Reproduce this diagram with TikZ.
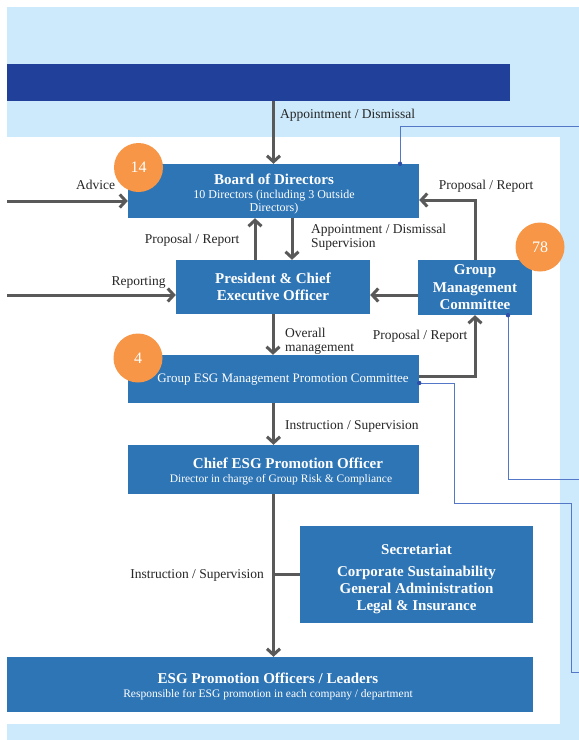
\documentclass[tikz,border=0pt]{standalone}
\usepackage{fontspec}
\setmainfont{Liberation Serif}
\usetikzlibrary{arrows.meta}

\definecolor{pagebg}{HTML}{CCEAFB}
\definecolor{barblue}{HTML}{21409A}
\definecolor{boxblue}{HTML}{2E75B6}
\definecolor{badgeorange}{HTML}{F79646}
\definecolor{flowgray}{HTML}{595959}
\definecolor{linkblue}{HTML}{5577C8}
\definecolor{dotblue}{HTML}{2F4FA8}

\tikzset{
  orgbox/.style={fill=boxblue, text=white, inner sep=0pt, align=center},
  boxtext/.style={text=white, inner sep=0pt, align=center},
  flowarrow/.style={draw=flowgray, line width=3pt,
    -{Straight Barb[length=6pt,width=13pt]}},
  flowline/.style={draw=flowgray, line width=3pt},
  linkline/.style={draw=linkblue, line width=1pt},
  linkdot/.style={fill=dotblue},
  badge/.style={circle, fill=badgeorange, text=white, inner sep=0pt,
    minimum size=49pt, font=\fontsize{16}{16}\selectfont},
  lbl/.style={text=black!85, inner sep=0pt, font=\fontsize{13.5}{14}\selectfont},
  ttl/.style={font=\fontsize{15}{17.5}\selectfont\bfseries},
}
\newcommand{\subline}{\fontsize{11.5}{13}\selectfont\mdseries}

\begin{document}
\begin{tikzpicture}[x=1pt,y=-1pt]
\useasboundingbox (0,0) rectangle (579,740);
% page background and panels
\fill[white] (0,0) rectangle (579,740);
\fill[pagebg] (7,7) rectangle (579,740);
\node[fill=barblue, minimum width=503pt, minimum height=37pt, inner sep=0pt] (bar) at (258.5,82.5) {};
\fill[white] (7,137) rectangle (560,724);

% boxes
\node[orgbox, minimum width=291pt, minimum height=54pt] (board) at (273.5,191) {};
\node[boxtext, font=\fontsize{12}{13}\selectfont] (boardtext) at (274,193.5)
  {{\fontsize{15}{15}\selectfont\bfseries Board of Directors}\\[1pt]
   10 Directors (including 3 Outside\\
   Directors)};
\node[orgbox, minimum width=194pt, minimum height=54pt, ttl] (pres) at (273,287)
  {President \& Chief\\Executive Officer};
\node[orgbox, minimum width=114pt, minimum height=55pt, ttl] (gmc) at (475,287.5)
  {Group\\Management\\Committee};
\node[orgbox, minimum width=291pt, minimum height=48pt] (esg) at (273.5,379) {};
\node[boxtext, font=\fontsize{13}{13}\selectfont] (esgtext) at (283,380)
  {Group ESG Management Promotion Committee};
\node[orgbox, minimum width=291pt, minimum height=49pt] (chief) at (273.5,469.5) {};
\node[boxtext, font=\subline] (chieftext) at (281,471)
  {\hspace*{14pt}{\fontsize{15}{15}\selectfont\bfseries Chief ESG Promotion Officer}\\[1pt]
   Director in charge of Group Risk \& Compliance};
\node[orgbox, minimum width=233pt, minimum height=97pt] (secr) at (416.5,574.5) {};
\node[boxtext, font=\fontsize{15}{17}\selectfont\bfseries] (secrtext) at (416.5,578.5)
  {Secretariat\\[5pt]
   Corporate Sustainability\\
   General Administration\\
   Legal \& Insurance};
\node[orgbox, minimum width=526pt, minimum height=55pt] (officers) at (270,684.5) {};
\node[boxtext, font=\subline] (officerstext) at (268,686)
  {{\fontsize{15}{15}\selectfont\bfseries ESG Promotion Officers / Leaders}\\[1pt]
   Responsible for ESG promotion in each company / department};

% outer link lines
\coordinate (linkA) at (579,126);
\coordinate (linkB) at (579,479);
\coordinate (linkC) at (579,672);
\draw[linkline] ([xshift=126.5pt]board.north) |- (linkA);
\draw[linkline] ([xshift=33pt]gmc.south) |- (linkB);
\draw[linkline] ([yshift=-4pt]esg.east) -- ++(35,0) -- ++(0,120) -- ++(117,0) |- (linkC);
\fill[linkdot] ([xshift=126.5pt]board.north) circle (2.2pt);
\fill[linkdot] ([xshift=33pt]gmc.south) circle (2.2pt);
\fill[linkdot] ([yshift=-4pt]esg.east) circle (2.2pt);

% reporting lines
\coordinate (advicein) at (7,201);
\coordinate (reportin) at (7,295);
\draw[flowarrow] (board.north |- bar.south) -- (board.north);
\draw[flowarrow] (advicein) -- (advicein -| board.west);
\draw[flowarrow] (reportin) -- (reportin -| pres.west);
\draw[flowarrow] ([xshift=-18pt]pres.north) -- ([xshift=-18pt]pres.north |- board.south);
\draw[flowarrow] ([xshift=19pt]pres.north |- board.south) -- ([xshift=19pt]pres.north);
\draw[flowarrow] (gmc.north) |- ([yshift=-9pt]board.east);
\draw[flowarrow] ([yshift=-7.5pt]gmc.west) -- ([yshift=-7.5pt]gmc.west -| pres.east);
\draw[flowarrow] (pres.south) -- (pres.south |- esg.north);
\draw[flowarrow] ([yshift=3pt]esg.east) -| (gmc.south);
\draw[flowarrow] (esg.south) -- (esg.south |- chief.north);
\draw[flowarrow] (chief.south) -- (chief.south |- officers.north);
\draw[flowline] (secr.west) -- (secr.west -| chief.south);

% membership badges
\node[badge] (b14) at (138.5,167.5) {14};
\node[badge] (b78) at (540,247) {78};
\node[badge] (b4) at (138,358) {4};

% connector labels
\node[lbl, anchor=west] (l1) at (280,115) {Appointment / Dismissal};
\node[lbl] (l2) at (95.5,185) {Advice};
\node[lbl] (l3) at (192,240) {Proposal / Report};
\node[lbl] (l4) at (138.5,282) {Reporting};
\node[lbl, anchor=west, align=left] (l5) at (311,237) {Appointment / Dismissal\\Supervision};
\node[lbl] (l6) at (486,186) {Proposal / Report};
\node[lbl, anchor=west, align=left] (l7) at (285,341) {Overall\\management};
\node[lbl] (l8) at (420,336) {Proposal / Report};
\node[lbl, anchor=west] (l9) at (285,426) {Instruction / Supervision};
\node[lbl] (l10) at (197,575) {Instruction / Supervision};
\end{tikzpicture}
\end{document}
